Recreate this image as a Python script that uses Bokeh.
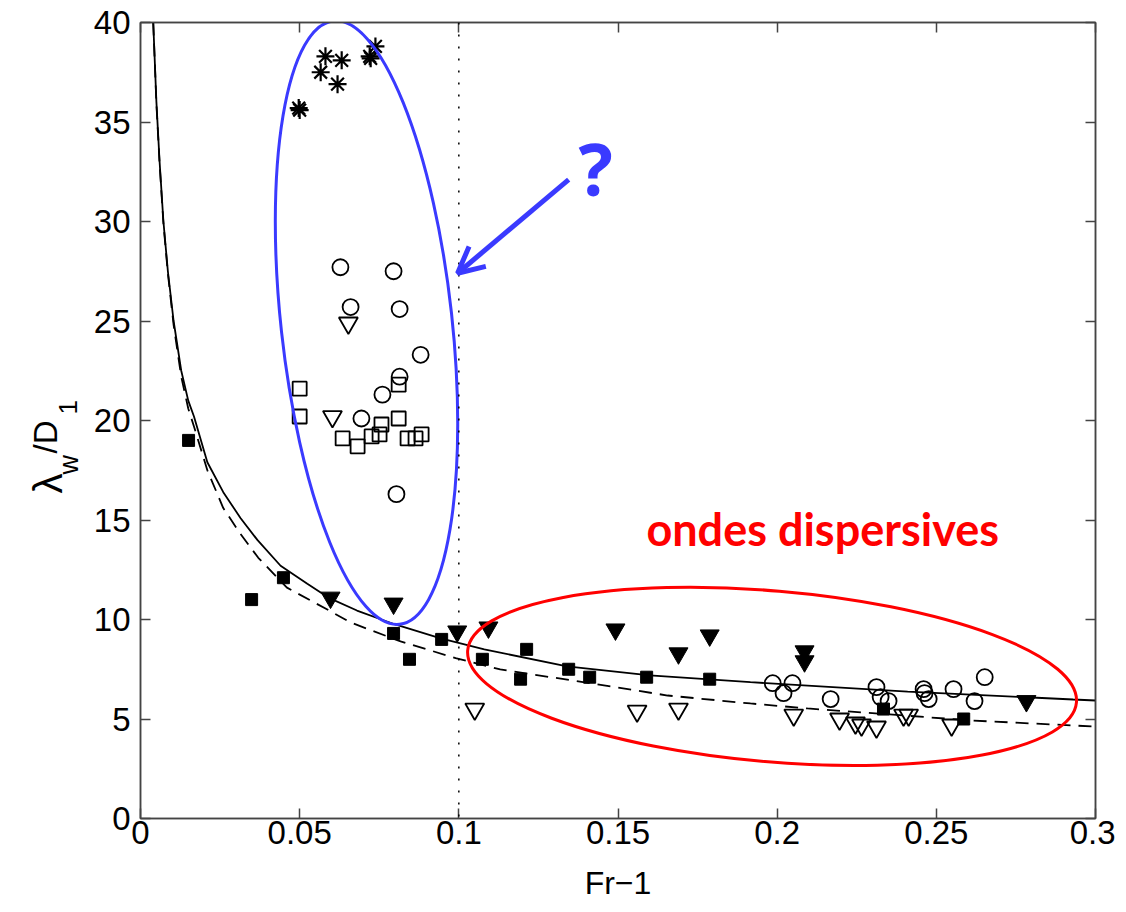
import math
from bokeh.plotting import figure
from bokeh.layouts import row
from bokeh.models import (FixedTicker, CustomJSTickFormatter, LinearAxis,
                          Arrow, OpenHead, Span)
from bokeh.core.properties import value
from bokeh.embed import file_html
from bokeh.resources import INLINE

# ---------------- data ----------------
x_ticks = [0, 0.05, 0.1, 0.15, 0.2, 0.25, 0.3]
y_ticks = [0, 5, 10, 15, 20, 25, 30, 35, 40]

stars_x = [0.0500, 0.0497, 0.0566, 0.0581, 0.0632, 0.0619, 0.0720, 0.0723, 0.0738]
stars_y = [35.6, 35.7, 37.5, 38.3, 38.1, 36.9, 38.3, 38.2, 38.8]

circ_x = [0.0628, 0.0795, 0.0660, 0.0814, 0.0880, 0.0814, 0.0760, 0.0694, 0.0804,
          0.1986, 0.2020, 0.2048, 0.2168, 0.2312, 0.2325, 0.2350, 0.2460, 0.2463,
          0.2476, 0.2554, 0.2620, 0.2652]
circ_y = [27.7, 27.5, 25.7, 25.6, 23.3, 22.2, 21.3, 20.1, 16.3,
          6.8, 6.3, 6.8, 6.0, 6.6, 6.1, 5.9, 6.5, 6.3,
          6.0, 6.5, 5.9, 7.1]

osq_x = [0.0500, 0.0500, 0.0635, 0.0682, 0.0726, 0.0751, 0.0757, 0.0811, 0.0811,
         0.0839, 0.0864, 0.0883]
osq_y = [21.6, 20.2, 19.1, 18.7, 19.2, 19.3, 19.8, 20.1, 21.8, 19.1, 19.1, 19.3]

fsq_x = [0.0151, 0.0349, 0.0449, 0.0795, 0.0845, 0.0946, 0.1074, 0.1213, 0.1194,
         0.1345, 0.1411, 0.1590, 0.1788, 0.2334, 0.2586]
fsq_y = [19.0, 11.0, 12.1, 9.3, 8.0, 9.0, 8.0, 8.5, 7.0, 7.5, 7.1, 7.1, 7.0, 5.5, 5.0]

ftri_x = [0.0597, 0.0795, 0.0995, 0.1093, 0.1492, 0.1690, 0.1788, 0.2086, 0.2086, 0.2783]
ftri_y = [11.1, 10.8, 9.4, 9.6, 9.5, 8.3, 9.2, 8.4, 7.9, 5.9]

otri_x = [0.0653, 0.0603, 0.1050, 0.1560, 0.1690, 0.2052, 0.2196, 0.2246, 0.2265,
          0.2312, 0.2397, 0.2413, 0.2548]
otri_y = [24.9, 20.2, 5.5, 5.4, 5.5, 5.2, 5.0, 4.8, 4.7, 4.6, 5.2, 5.2, 4.7]

solid_x = [0.0040, 0.0050, 0.0060, 0.0072, 0.0086, 0.0104, 0.0128, 0.0150, 0.0168,
           0.0210, 0.0260, 0.0314, 0.0367, 0.0440, 0.0524, 0.0590, 0.0680, 0.0800,
           0.0943, 0.1080, 0.1340, 0.1600, 0.1916, 0.2410, 0.2930, 0.3000]
solid_y = [40.0, 36.0, 33.0, 30.0, 27.5, 25.0, 22.5, 21.0, 20.2,
           17.9, 16.4, 15.1, 14.0, 12.7, 11.8, 11.1, 10.45, 9.75,
           9.05, 8.5, 7.64, 7.19, 6.85, 6.38, 5.98, 5.93]

dash_x = [0.0040, 0.0050, 0.0060, 0.0072, 0.0086, 0.0104, 0.0128, 0.0150, 0.0168,
          0.0210, 0.0260, 0.0314, 0.0370, 0.0460, 0.0587, 0.0660, 0.0817, 0.0990,
          0.1130, 0.1400, 0.1656, 0.1916, 0.2095, 0.2617, 0.3000]
dash_y = [40.0, 35.9, 32.9, 29.9, 27.4, 24.8, 22.2, 20.6, 19.7,
          17.5, 15.6, 14.3, 13.1, 11.6, 10.5, 9.85, 8.9, 8.06,
          7.49, 6.83, 6.18, 5.78, 5.53, 4.92, 4.62]

vline_x = 0.1

# annotations (data-space anchors)
blue_ell = dict(x=0.0710, y=24.92, w=171, h=607, angle_deg=6.26)
red_ell = dict(x=0.1984, y=7.14, w=611, h=171, angle_deg=-4.89)
arrow_start = (0.1345, 32.1)
arrow_end = (0.0996, 27.4)
qmark_pos = (0.143, 32.7)
ondes_pos = (0.2143, 14.57)

# y-axis label pieces: text, x (px), y (px from bottom of label strip), size
ylab_text = ["\u03bb", "w", "/D", "1"]
ylab_px_x = [47, 68, 45, 67]
ylab_px_y = [429, 448, 469, 508]
ylab_size = ["40px", "27px", "33px", "26px"]

BLUE = "#3a3aff"
RED = "#ff0000"
AXC = "#444444"
H_TOTAL = 900
LAB_W = 90

p = figure(frame_width=955, frame_height=796, x_range=(0, 0.3), y_range=(0, 40),
           output_backend="svg", toolbar_location=None,
           min_border_left=140 - LAB_W, min_border_top=22, min_border_right=20,
           min_border_bottom=85)
p.grid.visible = False
p.outline_line_color = AXC
p.outline_line_width = 1.5
p.background_fill_color = "white"

def style_axis(ax):
    ax.axis_line_color = AXC
    ax.axis_line_width = 1.5
    ax.major_tick_line_color = AXC
    ax.major_tick_line_width = 1.5
    ax.major_tick_in = 10
    ax.major_tick_out = 0
    ax.minor_tick_line_color = None
    ax.major_label_text_font = "Liberation Sans"
    ax.major_label_text_font_size = "33px"
    ax.major_label_text_color = "black"

xa = p.xaxis[0]
ya = p.yaxis[0]
xa.ticker = FixedTicker(ticks=x_ticks)
ya.ticker = FixedTicker(ticks=y_ticks)
xa.formatter = CustomJSTickFormatter(code="return String(Math.round(tick*100)/100);")
style_axis(xa)
style_axis(ya)
xa.major_label_standoff = 2
ya.major_label_standoff = 10
xa.axis_label = "Fr\u22121"
xa.axis_label_text_font = "Liberation Sans"
xa.axis_label_text_font_size = "32px"
xa.axis_label_text_font_style = "normal"
xa.axis_label_text_color = "black"
xa.axis_label_standoff = 18

for loc in ("right", "above"):
    ax = LinearAxis(ticker=FixedTicker(ticks=y_ticks if loc == "right" else x_ticks),
                    formatter=CustomJSTickFormatter(code="return '';"))
    style_axis(ax)
    ax.major_label_text_font_size = "0px"
    ax.major_label_standoff = 0
    p.add_layout(ax, loc)

# reference dotted line
p.add_layout(Span(location=vline_x, dimension="height", line_color="black",
                  line_width=1.5, line_dash="2 10"))

# curves
p.line(solid_x, solid_y, line_color="black", line_width=1.8)
p.line(dash_x, dash_y, line_color="black", line_width=1.8, line_dash="13 8")

# markers
p.scatter(stars_x, stars_y, marker="asterisk", size=18, line_color="black", line_width=2.2)
p.scatter(circ_x, circ_y, marker="circle", size=16, fill_color=None,
          line_color="black", line_width=1.8)
p.scatter(osq_x, osq_y, marker="square", size=14, fill_color=None,
          line_color="black", line_width=1.8)
p.scatter(fsq_x, fsq_y, marker="square", size=12, fill_color="black",
          line_color="black", line_width=1)
p.scatter(ftri_x, ftri_y, marker="inverted_triangle", size=19, fill_color="black",
          line_color="black", line_width=1)
p.scatter(otri_x, otri_y, marker="inverted_triangle", size=19, fill_color=None,
          line_color="black", line_width=1.8)

# ellipses
for e, col in ((blue_ell, BLUE), (red_ell, RED)):
    p.ellipse(x=[e["x"]], y=[e["y"]], width=[e["w"]], height=[e["h"]],
              angle=[math.radians(e["angle_deg"])], width_units="screen",
              height_units="screen", fill_color=None, line_color=col, line_width=3)

# arrow and texts
p.add_layout(Arrow(end=OpenHead(size=26, line_color=BLUE, line_width=5),
                   x_start=arrow_start[0], y_start=arrow_start[1],
                   x_end=arrow_end[0], y_end=arrow_end[1],
                   line_color=BLUE, line_width=5))
p.text(x=[qmark_pos[0]], y=[qmark_pos[1]], text=["?"], text_color=BLUE,
       text_font=value("Open Sans"), text_font_style="bold", text_font_size="72px",
       text_align="center", text_baseline="middle")
p.text(x=[ondes_pos[0]], y=[ondes_pos[1]], text=["ondes dispersives"], text_color=RED,
       text_font=value("Lato"), text_font_style="bold", text_font_size="45px",
       text_align="center", text_baseline="alphabetic")

# strip on the left carrying the rotated y label (lambda_w / D_1)
lab = figure(frame_width=LAB_W, frame_height=H_TOTAL, x_range=(0, LAB_W),
             y_range=(0, H_TOTAL), x_axis_type=None, y_axis_type=None,
             toolbar_location=None, output_backend="svg",
             min_border_left=0, min_border_right=0, min_border_top=0,
             min_border_bottom=0)
lab.outline_line_color = None
lab.grid.visible = False
for t, xx, yy, fs in zip(ylab_text, ylab_px_x, ylab_px_y, ylab_size):
    lab.text(x=[xx], y=[yy], text=[t], angle=math.pi / 2,
             text_font=value("Liberation Sans"), text_font_size=fs,
             text_align="left", text_baseline="alphabetic", text_color="black")

layout = row(lab, p)
open("out.html", "w").write(file_html(layout, INLINE))
